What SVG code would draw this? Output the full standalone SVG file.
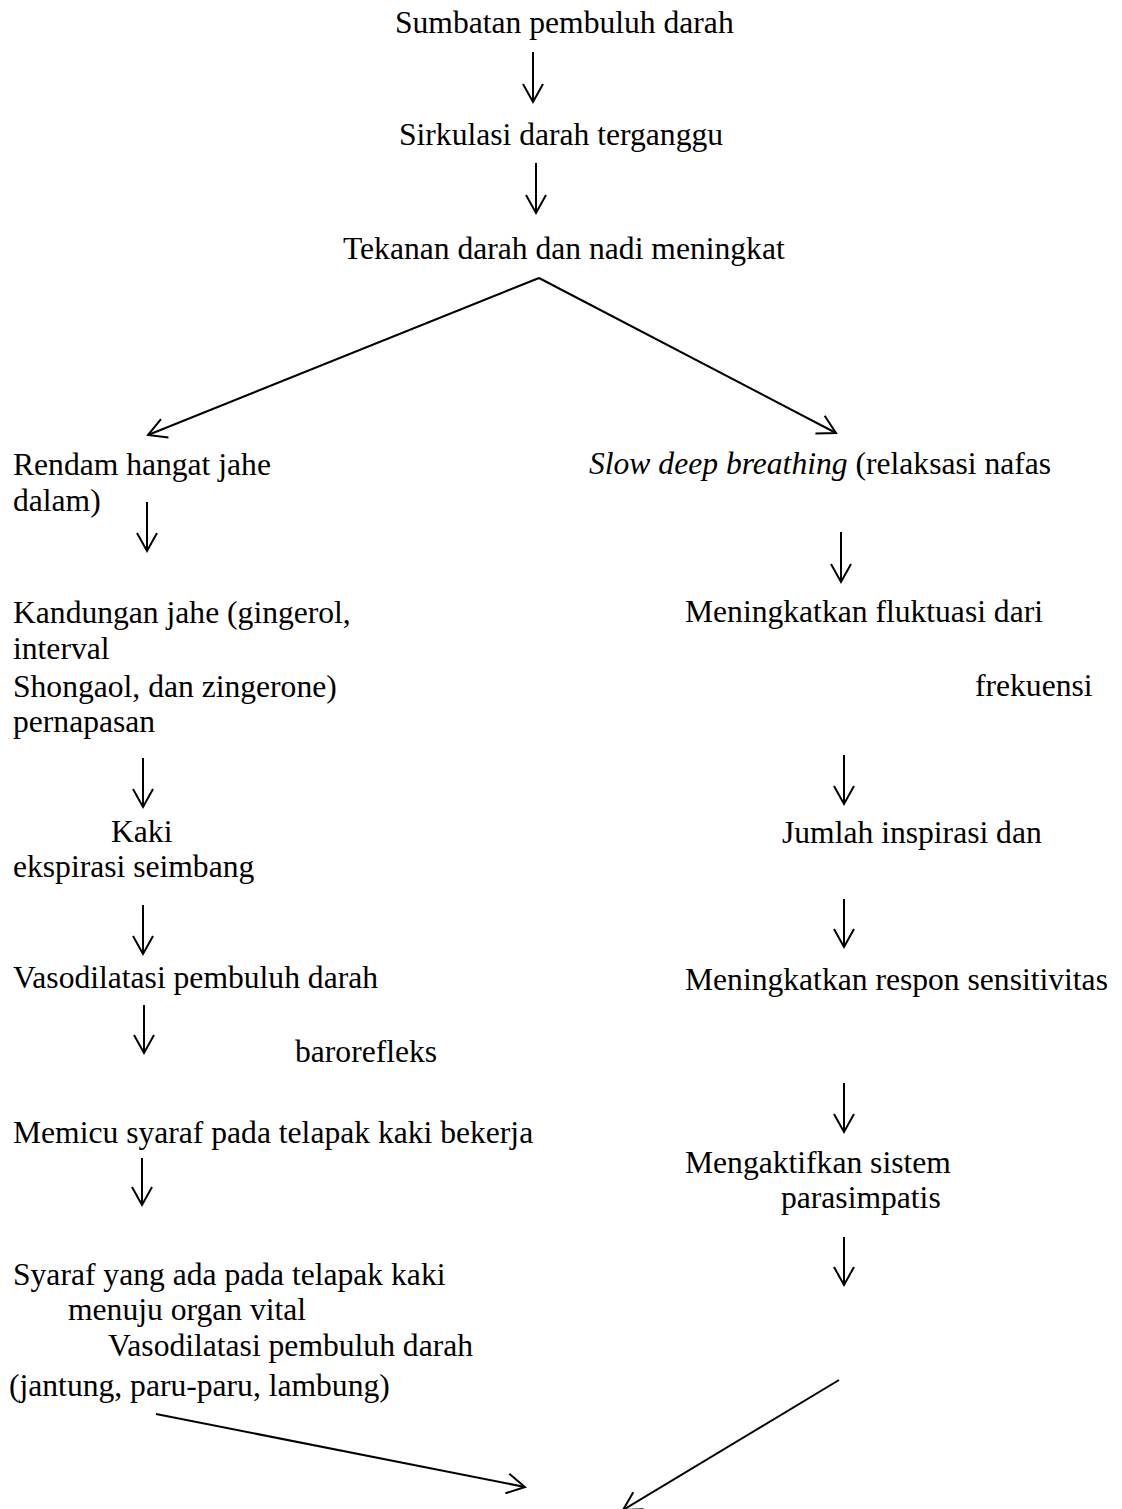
<svg xmlns="http://www.w3.org/2000/svg" width="1122" height="1509" viewBox="0 0 1122 1509">
<style>
text{font-family:"Liberation Serif","Times New Roman",serif;font-size:31.6px;fill:#000}
.c line{stroke:#000;stroke-width:2;fill:none;marker-end:url(#ah)}
</style>
<defs>
<marker id="ah" markerUnits="userSpaceOnUse" orient="auto" refX="0" refY="0" markerWidth="30" markerHeight="30" overflow="visible">
<path d="M-18,-10 L0,0 L-18,10" fill="none" stroke="#000" stroke-width="2"/>
</marker>
</defs>
<rect width="1122" height="1509" fill="#fff"/>
<g id="n1"><text x="395" y="33">Sumbatan pembuluh darah</text></g>
<g id="n2"><text x="399" y="145">Sirkulasi darah terganggu</text></g>
<g id="n3"><text x="343" y="259">Tekanan darah dan nadi meningkat</text></g>
<g id="L1"><text x="13" y="475">Rendam hangat jahe</text><text x="13" y="511">dalam)</text></g>
<g id="L2"><text x="13" y="623">Kandungan jahe (gingerol,</text><text x="13" y="659">interval</text><text x="13" y="697">Shongaol, dan zingerone)</text><text x="13" y="732">pernapasan</text></g>
<g id="L3"><text x="111" y="842">Kaki</text><text x="13" y="877">ekspirasi seimbang</text></g>
<g id="L4"><text x="13" y="988">Vasodilatasi pembuluh darah</text></g>
<g id="L5"><text x="295" y="1062">barorefleks</text></g>
<g id="L6"><text x="13" y="1143">Memicu syaraf pada telapak kaki bekerja</text></g>
<g id="L7"><text x="13" y="1285">Syaraf yang ada pada telapak kaki</text><text x="68" y="1320">menuju organ vital</text><text x="108" y="1356">Vasodilatasi pembuluh darah</text><text x="9" y="1396">(jantung, paru-paru, lambung)</text></g>
<g id="R1"><text x="589" y="474"><tspan font-style="italic">Slow deep breathing</tspan> (relaksasi nafas</text></g>
<g id="R2"><text x="685" y="622">Meningkatkan fluktuasi dari</text><text x="975" y="696">frekuensi</text></g>
<g id="R3"><text x="782" y="843">Jumlah inspirasi dan</text></g>
<g id="R4"><text x="685" y="990">Meningkatkan respon sensitivitas</text></g>
<g id="R5"><text x="685" y="1173">Mengaktifkan sistem</text><text x="781" y="1208">parasimpatis</text></g>
<g id="connectors" class="c">
<line x1="533" y1="52" x2="533" y2="102"/>
<line x1="536" y1="163" x2="536" y2="213"/>
<line x1="539" y1="278" x2="148" y2="435"/>
<line x1="539" y1="278" x2="836" y2="433"/>
<line x1="147" y1="502" x2="147" y2="551"/>
<line x1="143" y1="758" x2="143" y2="807"/>
<line x1="143" y1="905" x2="143" y2="954"/>
<line x1="144" y1="1005" x2="144" y2="1053"/>
<line x1="142" y1="1158" x2="142" y2="1205"/>
<line x1="841" y1="532" x2="841" y2="582"/>
<line x1="844" y1="755" x2="844" y2="804"/>
<line x1="844" y1="899" x2="844" y2="947"/>
<line x1="844" y1="1083" x2="844" y2="1132"/>
<line x1="844" y1="1237" x2="844" y2="1285"/>
<line x1="156" y1="1414" x2="525" y2="1487"/>
<line x1="839" y1="1380" x2="623" y2="1510"/>
</g>
</svg>
